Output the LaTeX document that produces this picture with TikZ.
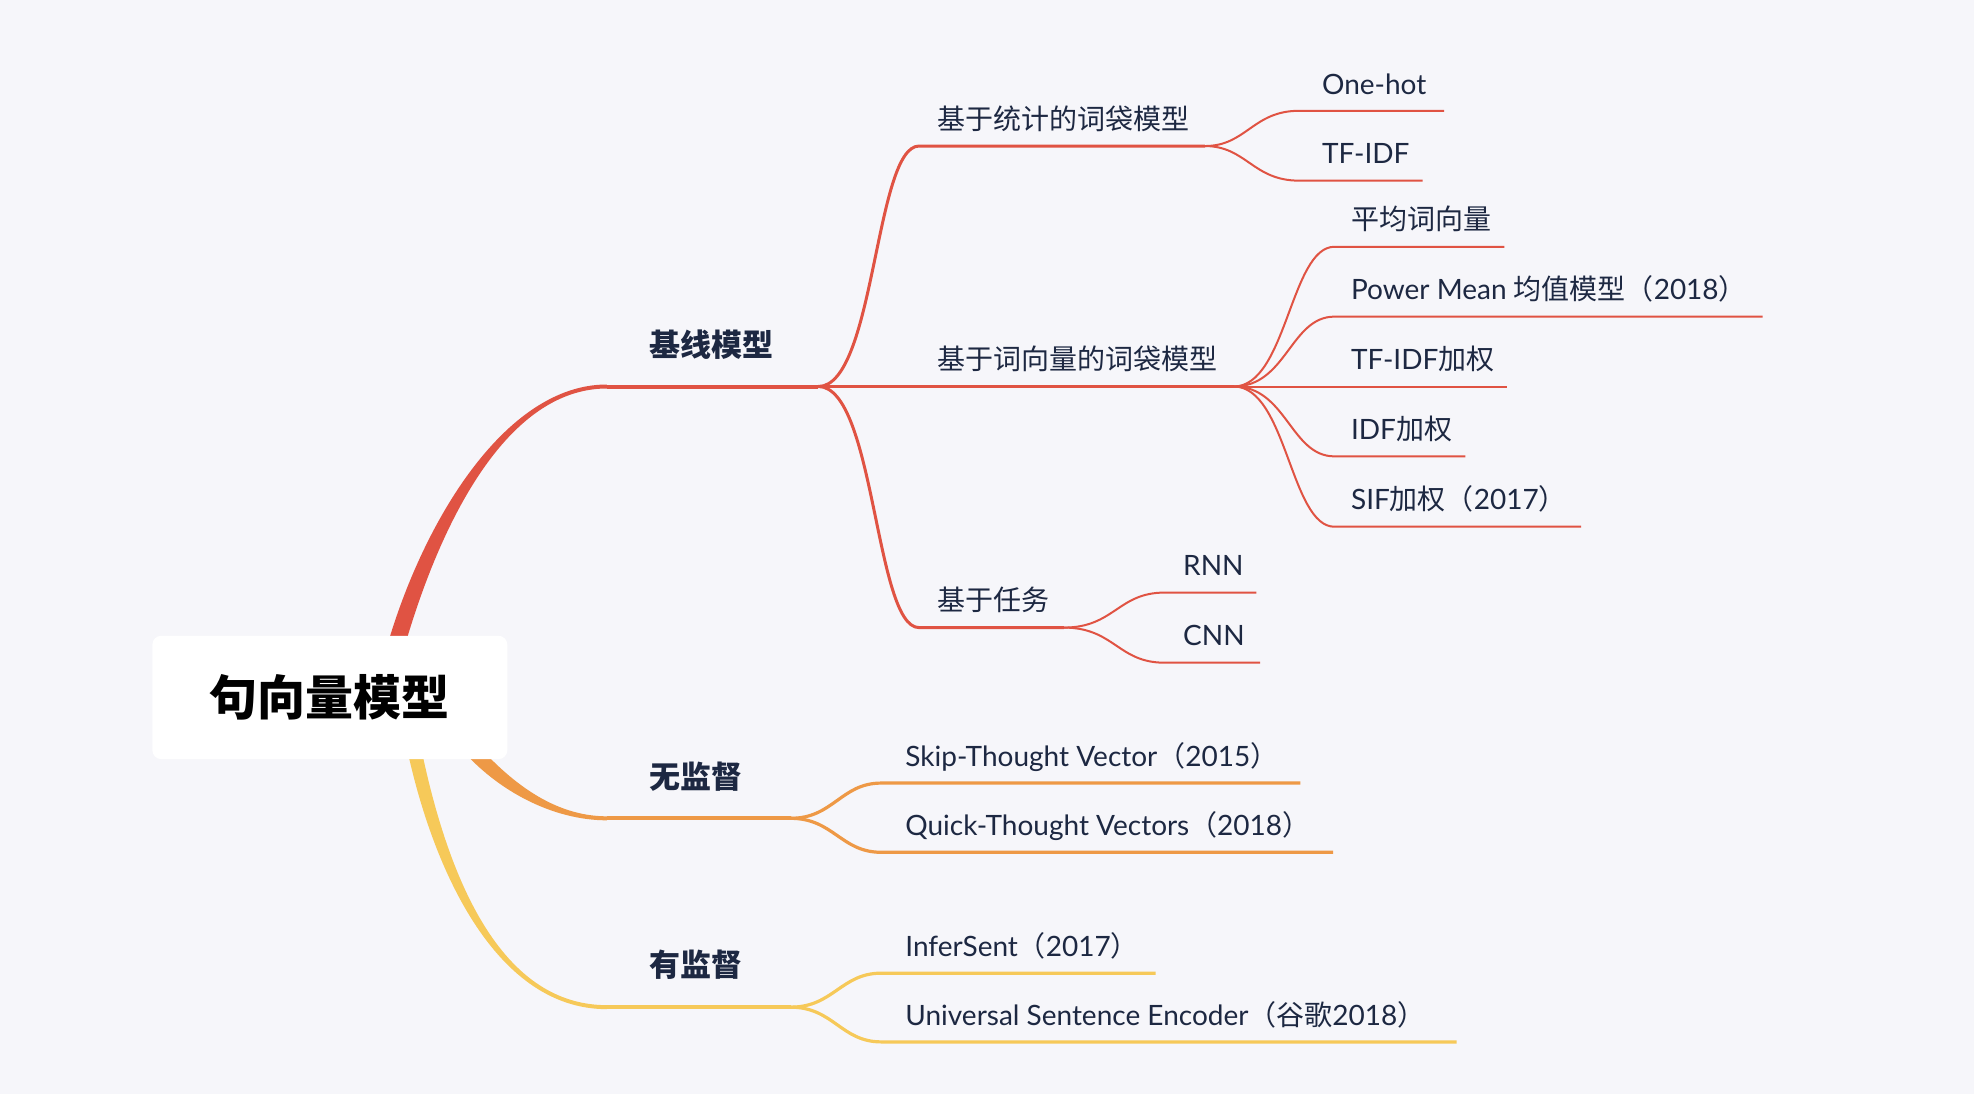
\documentclass[tikz,border=0pt]{standalone}
\usepackage{fontspec}
\setmainfont{Lato}
\newfontfamily\cjk{Noto Sans CJK SC}
\usetikzlibrary{calc}
\definecolor{bgc}{HTML}{F6F6FA}
\definecolor{redb}{HTML}{E05343}
\definecolor{orab}{HTML}{EE9946}
\definecolor{yelb}{HTML}{F6C959}
\definecolor{txt}{HTML}{1D2842}
% tapered branch: P0, C1, C2, P3, half width start, half width end, colour
\newcommand\mmtaper[7]{%
  \fill[#7] ($#1!#5!90:#2$) .. controls ($#2!#5!-90:#1$) and ($#3!#6!90:#4$) .. ($#4!#6!-90:#3$)
    -- ($#4!#6!90:#3$) .. controls ($#3!#6!-90:#4$) and ($#2!#5!90:#1$) .. ($#1!#5!-90:#2$) -- cycle;}
\tikzset{
  leaf/.style={anchor=base west, inner sep=0pt, text=txt, font=\fontsize{28}{30}\selectfont},
  mainlbl/.style={anchor=base west, inner sep=0pt, text=txt, font=\fontsize{31}{33}\selectfont\cjk\bfseries},
  redmain/.style={draw=redb, line width=4pt},
  redsub/.style={draw=redb, line width=3pt},
  redleaf/.style={draw=redb, line width=2pt},
  oramain/.style={draw=orab, line width=4pt},
  oraleaf/.style={draw=orab, line width=3.2pt},
  yelmain/.style={draw=yelb, line width=4pt},
  yelleaf/.style={draw=yelb, line width=3.2pt},
}
\begin{document}
\begin{tikzpicture}[x=1.259pt,y=-1.259pt]
\fill[bgc] (0,0) rectangle (1568,869);
\useasboundingbox (0,0) rectangle (1568,869);

% junction coordinates
\coordinate (rA) at (482,307);  \coordinate (rJ) at (650,307);
\coordinate (oA) at (482,650);  \coordinate (oJ) at (628,650);
\coordinate (yA) at (482,800);  \coordinate (yJ) at (628,800);
\coordinate (s1a) at (730,116); \coordinate (s1J) at (957,116);
\coordinate (s2J) at (980,307);
\coordinate (s3a) at (730,498.5); \coordinate (s3J) at (845,498.5);

% main tapered branches
\mmtaper{(312,522)}{(340,420)}{(400,307)}{(482,307)}{8.5pt}{2pt}{redb}
\mmtaper{(370,590)}{(400,625)}{(440,650)}{(482,650)}{7.5pt}{2pt}{orab}
\mmtaper{(326,580)}{(345,680)}{(390,800)}{(482,800)}{7pt}{2pt}{yelb}

\draw[redmain] (rA) -- (rJ);
\draw[oramain] (oA) -- (oJ);
\draw[yelmain] (yA) -- (yJ);

% red sub-branches
\draw[redsub] (rJ) .. controls +(45,0) and +(-35,0) .. (s1a) -- (s1J);
\draw[redsub] (rJ) -- (s2J);
\draw[redsub] (rJ) .. controls +(45,0) and +(-35,0) .. (s3a) -- (s3J);

% red leaves
\coordinate (l1a) at (1032,88);    \coordinate (l1b) at (1147,88);
\coordinate (l2a) at (1032,143.5); \coordinate (l2b) at (1130,143.5);
\draw[redleaf] (s1J) .. controls +(33,0) and +(-37,0) .. (l1a) -- (l1b);
\draw[redleaf] (s1J) .. controls +(33,0) and +(-37,0) .. (l2a) -- (l2b);

\coordinate (l3a) at (1060,196);   \coordinate (l3b) at (1195,196);
\coordinate (l4a) at (1060,251.5); \coordinate (l4b) at (1400,251.5);
\coordinate (l5b) at (1197,307);
\coordinate (l6a) at (1060,362.5); \coordinate (l6b) at (1164,362.5);
\coordinate (l7a) at (1060,418.4); \coordinate (l7b) at (1256,418.4);
\draw[redleaf] (s2J) .. controls +(42,0) and +(-35,0) .. (l3a) -- (l3b);
\draw[redleaf] (s2J) .. controls +(42,0) and +(-35,0) .. (l4a) -- (l4b);
\draw[redleaf] (s2J) -- (l5b);
\draw[redleaf] (s2J) .. controls +(42,0) and +(-35,0) .. (l6a) -- (l6b);
\draw[redleaf] (s2J) .. controls +(42,0) and +(-35,0) .. (l7a) -- (l7b);

\coordinate (l8a) at (925,470.7);  \coordinate (l8b) at (998,470.7);
\coordinate (l9a) at (925,526.4);  \coordinate (l9b) at (1001,526.4);
\draw[redleaf] (s3J) .. controls +(40,0) and +(-37,0) .. (l8a) -- (l8b);
\draw[redleaf] (s3J) .. controls +(40,0) and +(-37,0) .. (l9a) -- (l9b);

% orange leaves
\coordinate (o1a) at (700,622); \coordinate (o1b) at (1033,622);
\coordinate (o2a) at (700,677); \coordinate (o2b) at (1059,677);
\draw[oraleaf] (oJ) .. controls +(34,0) and +(-32,0) .. (o1a) -- (o1b);
\draw[oraleaf] (oJ) .. controls +(34,0) and +(-32,0) .. (o2a) -- (o2b);

% yellow leaves
\coordinate (y1a) at (700,773);   \coordinate (y1b) at (918,773);
\coordinate (y2a) at (700,827.6); \coordinate (y2b) at (1157,827.6);
\draw[yelleaf] (yJ) .. controls +(34,0) and +(-32,0) .. (y1a) -- (y1b);
\draw[yelleaf] (yJ) .. controls +(34,0) and +(-32,0) .. (y2a) -- (y2b);

% root
\node (root) [fill=white, rounded corners=9pt, minimum width=355pt, minimum height=123.4pt,
  inner sep=0pt, text=black, font=\fontsize{48}{50}\selectfont\cjk\bfseries] at (262,554) {句向量模型};

% main labels
\node (m1) [mainlbl] at (516,283) {基线模型};
\node (m2) [mainlbl] at (516,626) {无监督};
\node (m3) [mainlbl] at (516,776) {有监督};

% sub labels
\node (s1) [leaf] at (744.6,102.5) {\cjk 基于统计的词袋模型};
\node (s2) [leaf] at (744.6,293.5) {\cjk 基于词向量的词袋模型};
\node (s3) [leaf] at (744.6,485) {\cjk 基于任务};

% leaf labels
\node (t1) [leaf] at (1050,74.7) {One-hot};
\node (t2) [leaf] at (1050,130) {TF-IDF};
\node (t3) [leaf] at (1073,182.5) {\cjk 平均词向量};
\node (t4) [leaf] at (1073,238) {Power Mean {\cjk 均值模型（}2018{\cjk ）}};
\node (t5) [leaf] at (1073,293.5) {TF-IDF{\cjk 加权}};
\node (t6) [leaf] at (1073,349) {IDF{\cjk 加权}};
\node (t7) [leaf] at (1073,405) {SIF{\cjk 加权（}2017{\cjk ）}};
\node (t8) [leaf] at (939.7,457.2) {RNN};
\node (t9) [leaf] at (939.7,513) {CNN};
\node (u1) [leaf] at (719,608.5) {Skip-Thought Vector{\cjk （}2015{\cjk ）}};
\node (u2) [leaf] at (719,663.5) {Quick-Thought Vectors{\cjk （}2018{\cjk ）}};
\node (v1) [leaf] at (719,759.5) {InferSent{\cjk （}2017{\cjk ）}};
\node (v2) [leaf] at (719,814.3) {Universal Sentence Encoder{\cjk （谷歌}2018{\cjk ）}};
\end{tikzpicture}
\end{document}
